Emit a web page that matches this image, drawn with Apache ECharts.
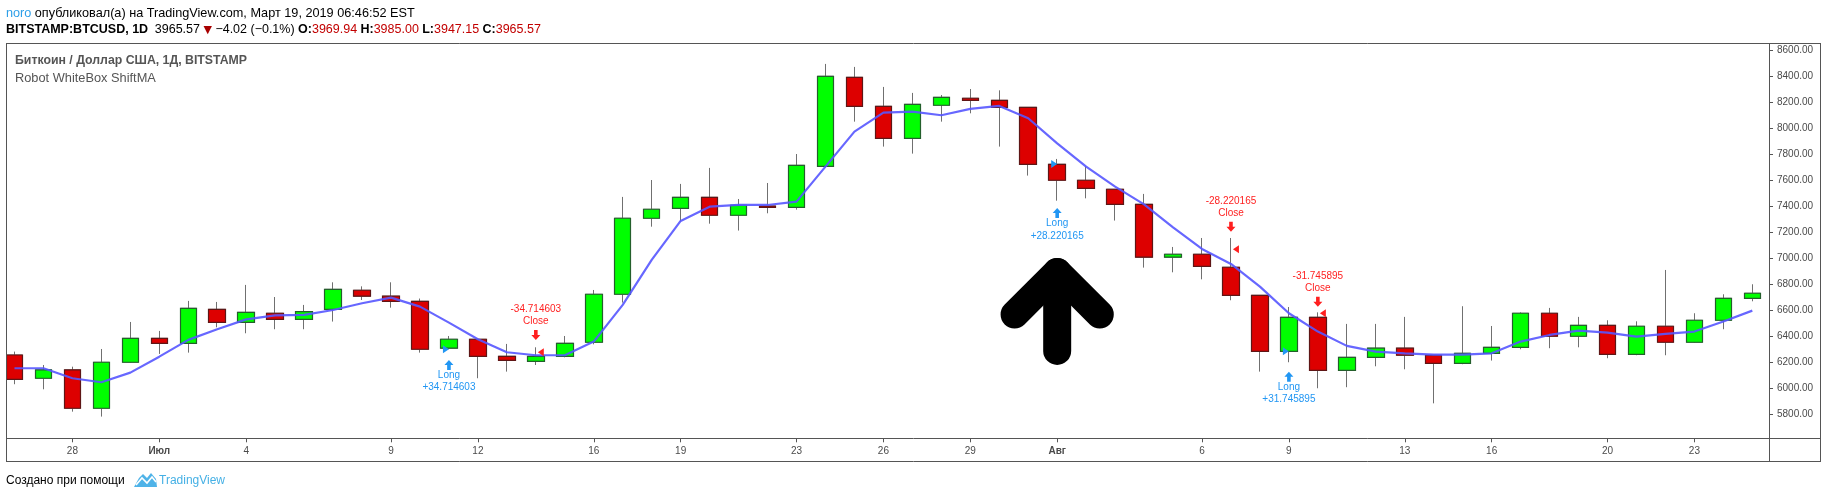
<!DOCTYPE html>
<html><head><meta charset="utf-8">
<script src="https://cdn.jsdelivr.net/npm/echarts@6/dist/echarts.min.js"></script>
<style>html,body{margin:0;padding:0;background:#fff;overflow:hidden}#c{width:1828px;height:499px}</style>
</head><body><div id="c"></div>
<script>
// ---------- data ----------
const dates = ['2018-06-26','2018-06-27','2018-06-28','2018-06-29','2018-06-30',
'2018-07-01','2018-07-02','2018-07-03','2018-07-04','2018-07-05','2018-07-06','2018-07-07','2018-07-08','2018-07-09','2018-07-10',
'2018-07-11','2018-07-12','2018-07-13','2018-07-14','2018-07-15','2018-07-16','2018-07-17','2018-07-18','2018-07-19','2018-07-20',
'2018-07-21','2018-07-22','2018-07-23','2018-07-24','2018-07-25','2018-07-26','2018-07-27','2018-07-28','2018-07-29','2018-07-30','2018-07-31',
'2018-08-01','2018-08-02','2018-08-03','2018-08-04','2018-08-05','2018-08-06','2018-08-07','2018-08-08','2018-08-09','2018-08-10',
'2018-08-11','2018-08-12','2018-08-13','2018-08-14','2018-08-15','2018-08-16','2018-08-17','2018-08-18','2018-08-19','2018-08-20',
'2018-08-21','2018-08-22','2018-08-23','2018-08-24','2018-08-25'];
const openV  = [6256,6077,6141,5846,6200,6384,6346,6607,6507,6577, 6530,6607,6754,6708,6669,6308,6377,6246,6207,6246,
                6354,6723,7308,7384,7469,7331,7402,7392,7707,8392, 8169,7923,8177,8231,8215,8161,7723,7600,7531,7415,
                7008,7031,6931,6715,6284,6546,6138,6238,6308,6254, 6192,6269,6315,6577,6400,6484,6261,6477,6354,6523, 6692];
const closeV = [6069,6141,5846,6200,6384,6346,6615,6507,6584,6530, 6589,6761,6708,6669,6300,6377,6246,6215,6246,6346,
                6723,7308,7377,7469,7331,7408,7392,7715,8400,8169, 7923,8184,8238,8215,8161,7723,7600,7538,7415,7008,
                7031,6938,6715,6284,6546,6138,6238,6308,6254,6192, 6269,6315,6577,6400,6484,6261,6477,6354,6523,6692, 6731];
const lowV   = [6031,5992,5820,5782,6195,6264,6274,6469,6423,6454, 6454,6513,6679,6620,6274,6300,6077,6128,6179,6238,
                6338,6659,7243,7282,7266,7213,7346,7374,7700,8051, 7859,7805,8051,8115,7859,7636,7443,7461,7290,6928,
                6892,6838,6677,6128,6200,6000,6008,6169,6146,5884, 6185,6213,6300,6308,6315,6231,6254,6254,6350,6454, 6669];
const highV  = [6282,6179,6166,6302,6510,6441,6672,6664,6795,6702, 6641,6815,6784,6815,6690,6402,6377,6341,6315,6402,
                6756,7472,7602,7572,7695,7456,7579,7802,8495,8472, 8318,8272,8256,8302,8292,8161,7764,7707,7531,7495,
                7087,7156,7156,6715,6625,6584,6495,6495,6549,6254, 6631,6479,6584,6618,6549,6523,6515,6910,6577,6723, 6800];
const shiftMA = [6154,6154,6077,6046,6120,6243,6372,6454,6530,6561, 6564,6602,6654,6697,6628,6505,6377,6277,6254,6254,
                 6359,6641,6987,7287,7397,7410,7410,7436,7705,7974, 8120,8128,8100,8149,8172,8077,7884,7705,7551,7415,
                 7238,7072,6956,6782,6577,6436,6326,6282,6269,6259, 6259,6269,6359,6410,6443,6428,6397,6418,6436,6513, 6597];
// x-axis tick labels
const xTickDates  = ['2018-06-28','2018-07-01','2018-07-04','2018-07-09','2018-07-12','2018-07-16','2018-07-19','2018-07-23',
                     '2018-07-26','2018-07-29','2018-08-01','2018-08-06','2018-08-09','2018-08-13','2018-08-16','2018-08-20','2018-08-23'];
const xTickLabels = ['28','Июл','4','9','12','16','19','23','26','29','Авг','6','9','13','16','20','23'];
// strategy trades
const longIdx     = [15, 36, 44];
const longEntry   = [6300, 7725, 6285];
const longArrow   = [6179, 7348, 6089];
const closeIdx    = [18, 42, 45];
const closeExit   = [6277, 7069, 6577];
const closeArrow  = [6410, 7243, 6666];
const tradeResult = ['34.714603', '28.220165', '31.745895'];
// big annotation arrow anchor (category index, price at apex)
const bigArrowIdx = 36, bigArrowPrice = 6895;

// ---------- chart ----------
const FF = '"Liberation Sans", Arial, sans-serif';
const chart = echarts.init(document.getElementById('c'), null, {renderer: 'canvas'});
const wickData = dates.map((d, i) => [openV[i], closeV[i], lowV[i], highV[i]]);
const bodyData = dates.map((d, i) => [openV[i], closeV[i], Math.min(openV[i], closeV[i]), Math.max(openV[i], closeV[i])]);
const tickSet = new Set(xTickDates.map(d => dates.indexOf(d)));

const upArrow = 'path://M5,0L10,5L7,5L7,10L3,10L3,5L0,5Z';
const downArrow = 'path://M3,0L7,0L7,5L10,5L5,10L0,5L3,5Z';
const BLUE = '#2196f3', RED = '#ff1f1f';
const marks = [];
for (let i = 0; i < longIdx.length; i++) {
  marks.push({coord: [longIdx[i], longArrow[i]], symbol: upArrow, symbolSize: [9, 10],
    itemStyle: {color: BLUE},
    label: {show: true, position: 'bottom', distance: -1, formatter: 'Long\n+' + tradeResult[i],
      color: BLUE, fontSize: 10, lineHeight: 12.5, fontFamily: FF, align: 'center'}});
  marks.push({coord: [longIdx[i], longEntry[i]], symbol: 'triangle', symbolSize: [8, 6], symbolRotate: -90,
    symbolOffset: [-3, 0], itemStyle: {color: BLUE}, label: {show: false}});
  marks.push({coord: [closeIdx[i], closeArrow[i]], symbol: downArrow, symbolSize: [9, 10],
    itemStyle: {color: RED},
    label: {show: true, position: 'top', distance: 2, formatter: '-' + tradeResult[i] + '\nClose',
      color: RED, fontSize: 10, lineHeight: 12.5, fontFamily: FF, align: 'center'}});
  marks.push({coord: [closeIdx[i], closeExit[i]], symbol: 'triangle', symbolSize: [8, 6], symbolRotate: 90,
    symbolOffset: [5, 0], itemStyle: {color: RED}, label: {show: false}});
}

const FRAME = '#555555';
function ln(id, x1, y1, x2, y2) {
  return {id, type: 'line', z: 100, silent: true, shape: {x1, y1, x2, y2}, style: {stroke: FRAME, lineWidth: 1}};
}
const graphics = [
  {id: 'mask', type: 'rect', z: 99, silent: true, shape: {x: 0, y: 40, width: 6, height: 400}, style: {fill: '#fff'}},
  ln('fT', 6, 43.5, 1821, 43.5), ln('fB', 6, 461.5, 1821, 461.5), ln('fL', 6.5, 43, 6.5, 462),
  ln('fR', 1820.5, 43, 1820.5, 462), ln('fV', 1769.5, 43, 1769.5, 462), ln('fH', 6, 438.5, 1821, 438.5),
  {id: 'h1', type: 'text', x: 6, y: 13, z: 100, style: {
    text: '{u|noro} {t|опубликовал(а) на TradingView.com, Март 19, 2019 06:46:52 EST}', verticalAlign: 'middle',
    rich: {u: {fill: '#2e9fe8', fontSize: 12.7, fontFamily: FF}, t: {fill: '#000', fontSize: 12.7, fontFamily: FF}}}},
  {id: 'h2', type: 'text', x: 6, y: 30, z: 100, style: {
    text: '{b|BITSTAMP:BTCUSD, 1D}  {t|3965.57 }{r|▼}{t| −4.02 (−0.1%) }{b|O:}{v|3969.94} {b|H:}{v|3985.00} {b|L:}{v|3947.15} {b|C:}{v|3965.57}',
    verticalAlign: 'middle',
    rich: {b: {fill: '#000', fontSize: 12.5, fontWeight: 'bold', fontFamily: FF},
           t: {fill: '#000', fontSize: 12.5, fontFamily: FF},
           r: {fill: '#a80000', fontSize: 11, fontFamily: '"DejaVu Sans", sans-serif'},
           v: {fill: '#c20000', fontSize: 12.5, fontFamily: FF}}}},
  {id: 't1', type: 'text', x: 15, y: 61, z: 100, style: {text: 'Биткоин / Доллар США, 1Д, BITSTAMP',
    fill: '#555', fontSize: 12.3, fontWeight: 'bold', fontFamily: FF, verticalAlign: 'middle'}},
  {id: 't2', type: 'text', x: 15, y: 78, z: 100, style: {text: 'Robot WhiteBox ShiftMA',
    fill: '#555', fontSize: 12.8, fontFamily: FF, verticalAlign: 'middle'}},
  {id: 'f1', type: 'text', x: 6, y: 481, z: 100, style: {text: 'Создано при помощи',
    fill: '#000', fontSize: 12, fontFamily: FF, verticalAlign: 'middle'}},
  {id: 'logo', type: 'polygon', z: 100, shape: {points: [[134,487],[139,478],[143,474],[147,478],[151,473],[156,479],[157,487]]},
    style: {fill: '#4fb3e8'}},
  {id: 'logoz', type: 'polyline', z: 101, shape: {points: [[136,485],[142,478],[147,483],[152,477],[156,482]]},
    style: {stroke: '#fff', lineWidth: 1.6, fill: null}},
  {id: 'f2', type: 'text', x: 159, y: 481, z: 100, style: {text: 'TradingView',
    fill: '#45b0e5', fontSize: 12, fontFamily: FF, verticalAlign: 'middle'}}
];

chart.setOption({
  animation: false,
  backgroundColor: '#ffffff',
  textStyle: {fontFamily: FF},
  grid: {left: -4.2, right: 61.2, top: 43, bottom: 60.7, containLabel: false},
  xAxis: {
    type: 'category', data: dates, boundaryGap: true,
    axisLine: {show: false},
    axisTick: {show: true, alignWithLabel: true, length: 4, interval: (i) => tickSet.has(i), lineStyle: {color: FRAME}},
    axisLabel: {interval: (i) => tickSet.has(i), margin: 8, color: '#4a4a4a', fontSize: 10, fontFamily: FF,
      formatter: (v) => { const t = xTickLabels[xTickDates.indexOf(v)] || ''; return /\d/.test(t) ? t : '{m|' + t + '}'; },
      rich: {m: {fontWeight: 'bold', color: '#4a4a4a', fontSize: 10, fontFamily: FF}}},
    splitLine: {show: false}
  },
  yAxis: {
    type: 'value', position: 'right', min: 5615, max: 8656, splitNumber: 15, offset: 2.2,
    axisLine: {show: false},
    axisTick: {show: true, length: 4, lineStyle: {color: FRAME}},
    axisLabel: {margin: 8, color: '#4a4a4a', fontSize: 10, fontFamily: FF, showMinLabel: false, showMaxLabel: false,
      formatter: (v) => v.toFixed(2)},
    splitLine: {show: false}
  },
  series: [
    {name: 'wick', type: 'candlestick', data: wickData, barWidth: 17, z: 2, silent: true,
     itemStyle: {color: '#ffffff', color0: '#ffffff', borderColor: '#707070', borderColor0: '#707070', borderWidth: 1}},
    {name: 'BTCUSD', type: 'candlestick', data: bodyData, barWidth: 17, z: 3, silent: true,
     itemStyle: {color: '#00ff00', color0: '#dd0000', borderColor: '#245f2c', borderColor0: '#5e1616', borderWidth: 1.2},
     markPoint: {animation: false, silent: true, data: marks}},
    {name: 'ShiftMA', type: 'line', data: shiftMA, symbol: 'none', z: 4, silent: true,
     lineStyle: {color: '#5656ff', width: 2.2, opacity: 0.9}}
  ],
  graphic: {elements: graphics}
});

// big black annotation arrow anchored at a category/price
const ap = chart.convertToPixel({xAxisIndex: 0, yAxisIndex: 0}, [bigArrowIdx, bigArrowPrice]);
const ax = ap[0], ay = ap[1];
chart.setOption({graphic: {elements: [
  {id: 'bigA1', type: 'polyline', z: 90, silent: true,
   shape: {points: [[ax - 42.6, ay + 42.6], [ax, ay], [ax + 42.6, ay + 42.6]]},
   style: {stroke: '#000', lineWidth: 28, lineCap: 'round', lineJoin: 'round', fill: null}},
  {id: 'bigA2', type: 'polyline', z: 90, silent: true,
   shape: {points: [[ax, ay], [ax, ay + 79]]},
   style: {stroke: '#000', lineWidth: 28, lineCap: 'round', lineJoin: 'round', fill: null}}
]}});
</script>
</body></html>
